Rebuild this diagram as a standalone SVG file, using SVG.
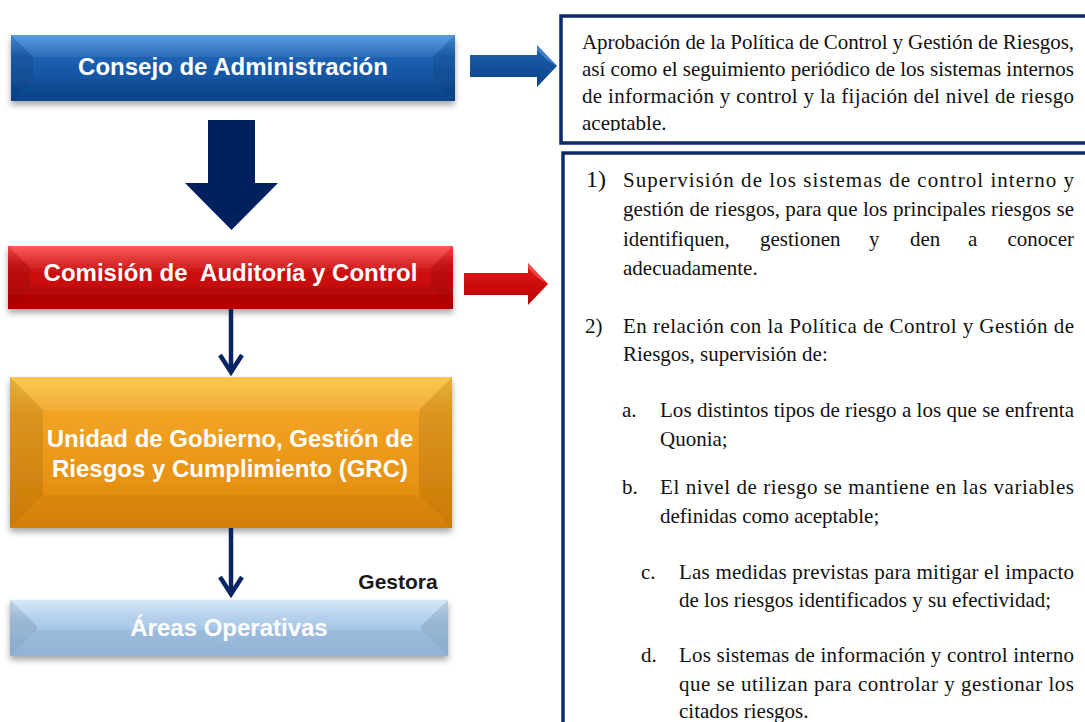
<svg xmlns="http://www.w3.org/2000/svg" width="1085" height="722" viewBox="0 0 1085 722">
<defs>
<style>
.lbl{font-family:"Liberation Sans",Arial,sans-serif;font-weight:bold;font-size:24px;fill:#fff;text-anchor:middle;white-space:pre}
.txt{font-family:"Liberation Serif","Times New Roman",serif;font-size:21px;fill:#111}
.num{font-family:"Liberation Serif","Times New Roman",serif;font-size:24px;fill:#111}
.frame{fill:#fff;stroke:#0b2a6b;stroke-width:3.5}
.fl{fill:#000;opacity:.09}
.fb{fill:#000;opacity:.05}
.ft{fill:#fff;opacity:.08}
.thin{fill:none;stroke:#0a2463;stroke-width:4.5}
</style>
<linearGradient id="gBlue" x1="0" y1="0" x2="0" y2="1"><stop offset="0" stop-color="#4a95e0"/><stop offset=".32" stop-color="#1d62b3"/><stop offset="1" stop-color="#0b4791"/></linearGradient>
<linearGradient id="gRed" x1="0" y1="0" x2="0" y2="1"><stop offset="0" stop-color="#ff4c4c"/><stop offset=".32" stop-color="#d21414"/><stop offset="1" stop-color="#b50000"/></linearGradient>
<linearGradient id="gOrange" x1="0" y1="0" x2="0" y2="1"><stop offset="0" stop-color="#fbc343"/><stop offset=".25" stop-color="#f2a324"/><stop offset="1" stop-color="#df8706"/></linearGradient>
<linearGradient id="gLight" x1="0" y1="0" x2="0" y2="1"><stop offset="0" stop-color="#d4e7f8"/><stop offset=".35" stop-color="#abcaea"/><stop offset="1" stop-color="#98bde2"/></linearGradient>
<linearGradient id="gArrB" x1="0" y1="0" x2="0" y2="1"><stop offset="0" stop-color="#1d62b0"/><stop offset="1" stop-color="#0a4286"/></linearGradient>
<linearGradient id="gArrR" x1="0" y1="0" x2="0" y2="1"><stop offset="0" stop-color="#e41a1a"/><stop offset="1" stop-color="#b80000"/></linearGradient>
<filter id="sh" x="-5%" y="-20%" width="110%" height="150%"><feDropShadow dx="0" dy="4" stdDeviation="3" flood-color="#000" flood-opacity="0.35"/></filter>
<clipPath id="clipTop"><rect x="563" y="18" width="530" height="113"/></clipPath>
</defs>
<rect width="1085" height="722" fill="#fff"/>

<g id="aprobacion">
<rect class="frame" x="561" y="16" width="540" height="127"/>
<g clip-path="url(#clipTop)">
<text class="txt" x="582" y="48.5" textLength="492" lengthAdjust="spacing">Aprobación de la Política de Control y Gestión de Riesgos,</text>
<text class="txt" x="582" y="75.5" textLength="492" lengthAdjust="spacing">así como el seguimiento periódico de los sistemas internos</text>
<text class="txt" x="582" y="102.5" textLength="492" lengthAdjust="spacing">de información y control y la fijación del nivel de riesgo</text>
<text class="txt" x="582" y="129.5">aceptable.</text>
</g>
</g>

<g id="supervision">
<rect class="frame" x="563" y="153" width="540" height="600"/>
<text class="num" x="586" y="187">1)</text>
<text class="txt" x="623" y="187" textLength="451" lengthAdjust="spacing">Supervisión de los sistemas de control interno y</text>
<text class="txt" x="623" y="216" textLength="451" lengthAdjust="spacing">gestión de riesgos, para que los principales riesgos se</text>
<text class="txt" y="245.5"><tspan x="623">identifiquen,</tspan><tspan x="760">gestionen</tspan><tspan x="869">y</tspan><tspan x="910">den</tspan><tspan x="968">a</tspan><tspan x="1007.5">conocer</tspan></text>
<text class="txt" x="623" y="274.5">adecuadamente.</text>
<text class="txt" x="585" y="332.5">2)</text>
<text class="txt" x="623" y="332.5" textLength="451" lengthAdjust="spacing">En relación con la Política de Control y Gestión de</text>
<text class="txt" x="623" y="361">Riesgos, supervisión de:</text>
<text class="txt" x="622" y="417">a.</text>
<text class="txt" x="660" y="417" textLength="414" lengthAdjust="spacing">Los distintos tipos de riesgo a los que se enfrenta</text>
<text class="txt" x="660" y="445.5">Quonia;</text>
<text class="txt" x="622" y="494">b.</text>
<text class="txt" x="660" y="494" textLength="414" lengthAdjust="spacing">El nivel de riesgo se mantiene en las variables</text>
<text class="txt" x="660" y="523">definidas como aceptable;</text>
<text class="txt" x="641" y="578.5">c.</text>
<text class="txt" x="679" y="578.5" textLength="395" lengthAdjust="spacing">Las medidas previstas para mitigar el impacto</text>
<text class="txt" x="679" y="607">de los riesgos identificados y su efectividad;</text>
<text class="txt" x="641" y="662">d.</text>
<text class="txt" x="679" y="662" textLength="395" lengthAdjust="spacing">Los sistemas de información y control interno</text>
<text class="txt" x="679" y="690.5" textLength="395" lengthAdjust="spacing">que se utilizan para controlar y gestionar los</text>
<text class="txt" x="679" y="717.5">citados riesgos.</text>
</g>

<g id="consejo">
<rect x="11" y="35" width="444" height="66" fill="url(#gBlue)" filter="url(#sh)"/>
<polygon class="ft" points="11,35 455,35 433,57 33,57"/>
<polygon class="fb" points="11,101 455,101 433,79 33,79"/>
<polygon class="fl" points="11,35 33,57 33,79 11,101"/>
<polygon class="fl" points="455,35 433,57 433,79 455,101"/>
<text class="lbl" x="233" y="75">Consejo de Administración</text>
</g>

<g id="comision">
<rect x="8" y="246" width="445" height="63" fill="url(#gRed)" filter="url(#sh)"/>
<polygon class="ft" points="8,246 453,246 431,268 30,268"/>
<polygon class="fb" points="8,309 453,309 431,287 30,287"/>
<polygon class="fl" points="8,246 30,268 30,287 8,309"/>
<polygon class="fl" points="453,246 431,268 431,287 453,309"/>
<text class="lbl" x="230.5" y="281" xml:space="preserve">Comisión de  Auditoría y Control</text>
</g>

<g id="grc">
<rect x="10" y="377" width="442" height="151" fill="url(#gOrange)" filter="url(#sh)"/>
<polygon class="ft" points="10,377 452,377 419,410 43,410"/>
<polygon class="fb" points="10,528 452,528 419,495 43,495"/>
<polygon class="fl" points="10,377 43,410 43,495 10,528"/>
<polygon class="fl" points="452,377 419,410 419,495 452,528"/>
<text class="lbl" x="230" y="447">Unidad de Gobierno, Gestión de</text>
<text class="lbl" x="230" y="477">Riesgos y Cumplimiento (GRC)</text>
</g>

<g id="areas">
<rect x="10" y="600" width="438" height="56" fill="url(#gLight)" filter="url(#sh)"/>
<polygon class="ft" points="10,600 448,600 421,626 37,626"/>
<polygon class="fb" points="10,656 448,656 421,630 37,630"/>
<polygon class="fl" points="10,600 37,626 37,630 10,656"/>
<polygon class="fl" points="448,600 421,626 421,630 448,656"/>
<text class="lbl" x="229" y="636">Áreas Operativas</text>
</g>

<g id="gestora">
<text x="398" y="589" style="font-family:'Liberation Sans',Arial,sans-serif;font-weight:bold;font-size:21px;fill:#1a1a1a;text-anchor:middle">Gestora</text>
</g>

<g id="connectors">
<polygon points="470,55 537,55 537,45 557,66 537,87 537,77 470,77" fill="url(#gArrB)"/>
<polygon points="537,45 557,66 547,60 537,50" fill="#5b9ae0" opacity=".6"/>
<polygon points="464,273 528,273 528,263 548,284 528,305 528,295 464,295" fill="url(#gArrR)"/>
<polygon points="528,263 548,284 538,278 528,268" fill="#ff6a6a" opacity=".6"/>
<polygon points="208,120 255,120 255,183 278,183 231.5,230 185,183 208,183" fill="#00215e"/>
<line class="thin" x1="231" y1="309" x2="231" y2="371"/>
<polyline class="thin" points="220,355 231,372 242,355"/>
<line class="thin" x1="231" y1="528" x2="231" y2="593"/>
<polyline class="thin" points="220,577 231,594 242,577"/>
</g>
</svg>
